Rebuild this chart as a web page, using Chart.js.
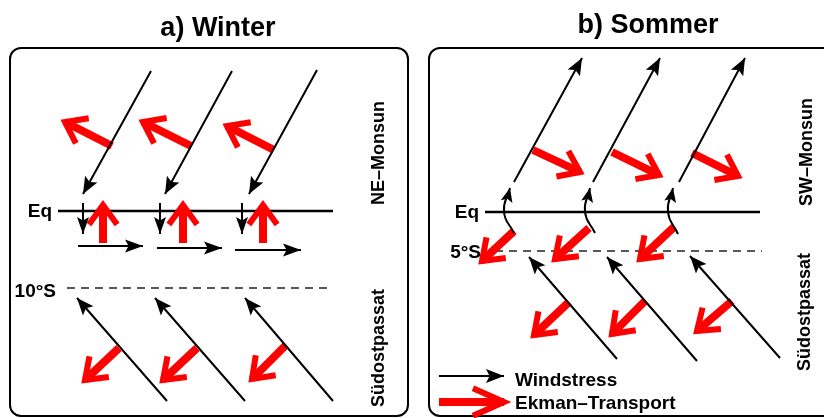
<!DOCTYPE html>
<html>
<head>
<meta charset="utf-8">
<script src="https://cdn.jsdelivr.net/npm/chart.js@4/dist/chart.umd.min.js"></script>
<style>
  html, body { margin: 0; padding: 0; background: #fff; }
  canvas { display: block; }
</style>
</head>
<body>
<canvas id="diagram" width="824" height="418"></canvas>
<script>
// Pfeile als [x0, y0, x1, y1], Spitze bei (x1, y1) – Einheiten der Achsen
const winterWind = [[151, 71, 83, 194], [232, 71, 165, 194], [317, 70, 249, 194]];
const winterEqDown = [[83, 203, 83, 234], [160, 203, 160, 234], [242, 203, 242, 234]];
const winterEqEast = [[78, 246, 143, 246], [157, 248, 222, 248], [235, 250, 301, 250]];
const winterPassat = [[167, 401, 77, 298], [245, 401, 155, 298], [333, 401, 245, 298]];
const winterEkmanN = [[112, 146, 65, 122], [191, 146, 143, 122], [274, 150, 227, 126]];
const winterEkmanEq = [[103, 243, 103, 205], [183, 243, 183, 205], [263, 243, 263, 205]];
const winterEkmanS = [[119, 348, 85, 380], [197, 348, 163, 380], [286, 345, 252, 379]];

const summerWind = [[514, 182, 582, 58], [593, 182, 660, 58], [679, 182, 745, 58]];
// gekrümmte Pfeile am Äquator: Start, Mitte, Spitze
const summerEqCurve = [
  [[514, 233], [504, 212], [510, 188]],
  [[595, 233], [585, 212], [590, 188]],
  [[678, 234], [668, 212], [673, 188]]
];
const summerPassat = [[617, 359, 529, 257], [697, 361, 607, 257], [780, 358, 690, 256]];
const summerEkmanN = [[533, 150, 580, 172], [612, 152, 659, 175], [692, 153, 738, 176]];
const summerEkmanEq = [[514, 231, 482, 261], [589, 228, 555, 259], [674, 227, 640, 259]];
const summerEkmanS = [[569, 302, 534, 335], [645, 301, 612, 334], [732, 301, 697, 331]];

// Äquator und Breitengrad
const eqLines = [[58, 211, 333, 211], [485, 212, 760, 212]];
const latLines = [[67, 288, 333, 288], [495, 251, 762, 251]];

// Legende
const legendWind = [[439, 376, 504, 376]];
const legendEkman = [[439, 402, 504, 402]];
const legendLabels = ["Windstress", "Ekman\u2013Transport"];

const panelTitles = ["a) Winter", "b) Sommer"];
const latLabels = ["10°S", "5°S"];
const sideLabels = ["NE\u2013Monsun", "S\u00fcdostpassat", "SW\u2013Monsun", "S\u00fcdostpassat"];

// Hilfsfunktion: Liste von Segmenten -> Punkte mit Lücken
function segs(list) {
  const pts = [];
  list.forEach((s) => {
    pts.push({ x: s[0], y: s[1] }, { x: s[2], y: s[3] }, { x: null, y: null });
  });
  return pts;
}
function curves(list) {
  const pts = [];
  list.forEach((c) => {
    c.forEach((p) => pts.push({ x: p[0], y: p[1] }));
    pts.push({ x: null, y: null });
  });
  return pts;
}

const RED = "#ff0000";
const BLACK = "#000000";

function blackArrows(data, head) {
  return { data, borderColor: BLACK, borderWidth: 2, order: 0, arrow: Object.assign({ type: "fill", len: 17, half: 7 }, head) };
}
function redArrows(data, head) {
  return { data, borderColor: RED, borderWidth: 8, order: 1, arrow: Object.assign({ type: "open", len: 24, angle: 36, width: 6 }, head) };
}

// Pfeilspitzen am Ende jedes Segments
const arrowHeads = {
  id: "arrowHeads",
  afterDatasetDraw(chart, args) {
    const ds = chart.data.datasets[args.index];
    if (!ds.arrow) return;
    const pts = args.meta.data;
    const ctx = chart.ctx;
    ctx.save();
    for (let i = 1; i < pts.length; i++) {
      const p = pts[i];
      const prev = pts[i - 1];
      const next = pts[i + 1];
      if (p.skip || prev.skip) continue;
      if (next && !next.skip) continue;
      const ang = Math.atan2(p.y - prev.y, p.x - prev.x);
      const a = ds.arrow;
      if (a.type === "fill") {
        const bx = p.x - a.len * Math.cos(ang);
        const by = p.y - a.len * Math.sin(ang);
        const nx = -Math.sin(ang) * a.half;
        const ny = Math.cos(ang) * a.half;
        const ix = p.x - a.len * 0.8 * Math.cos(ang);
        const iy = p.y - a.len * 0.8 * Math.sin(ang);
        ctx.fillStyle = ds.borderColor;
        ctx.beginPath();
        ctx.moveTo(p.x, p.y);
        ctx.lineTo(bx + nx, by + ny);
        ctx.lineTo(ix, iy);
        ctx.lineTo(bx - nx, by - ny);
        ctx.closePath();
        ctx.fill();
      } else {
        const da = (a.angle * Math.PI) / 180;
        ctx.strokeStyle = ds.borderColor;
        ctx.lineWidth = a.width;
        ctx.lineJoin = "miter";
        ctx.lineCap = "butt";
        ctx.beginPath();
        ctx.moveTo(p.x - a.len * Math.cos(ang - da), p.y - a.len * Math.sin(ang - da));
        ctx.lineTo(p.x, p.y);
        ctx.lineTo(p.x - a.len * Math.cos(ang + da), p.y - a.len * Math.sin(ang + da));
        ctx.stroke();
      }
    }
    ctx.restore();
  }
};

// Rahmen und Beschriftungen
const FONT = '"Liberation Sans", Arial, Helvetica, sans-serif';
const panelsAndText = {
  id: "panelsAndText",
  beforeDatasetsDraw(chart) {
    const { ctx, scales } = chart;
    const X = (v) => scales.x.getPixelForValue(v);
    const Y = (v) => scales.y.getPixelForValue(v);
    ctx.save();
    ctx.strokeStyle = BLACK;
    ctx.lineWidth = 2;
    [[10, 48, 408, 416], [429, 48, 840, 416]].forEach((b) => {
      ctx.beginPath();
      ctx.roundRect(X(b[0]), Y(b[1]), X(b[2]) - X(b[0]), Y(b[3]) - Y(b[1]), 11);
      ctx.stroke();
    });
    ctx.restore();
  },
  afterDatasetsDraw(chart) {
    const { ctx, scales } = chart;
    const X = (v) => scales.x.getPixelForValue(v);
    const Y = (v) => scales.y.getPixelForValue(v);
    ctx.save();
    ctx.fillStyle = BLACK;
    ctx.textBaseline = "alphabetic";

    ctx.font = "bold 27px " + FONT;
    ctx.textAlign = "center";
    ctx.fillText(panelTitles[0], X(218), Y(36));
    ctx.fillText(panelTitles[1], X(648), Y(33));

    ctx.font = "bold 19px " + FONT;
    ctx.textAlign = "right";
    ctx.fillText("Eq", X(52), Y(217));
    ctx.fillText("Eq", X(479), Y(218));
    ctx.fillText(latLabels[0], X(56), Y(297));
    ctx.fillText(latLabels[1], X(481), Y(258));

    ctx.textAlign = "left";
    ctx.fillText(legendLabels[0], X(515), Y(386));
    ctx.fillText(legendLabels[1], X(515), Y(409));

    ctx.font = "bold 18px " + FONT;
    ctx.textAlign = "center";
    ctx.textBaseline = "middle";
    [[sideLabels[0], 379, 153], [sideLabels[1], 379, 348], [sideLabels[2], 807, 152], [sideLabels[3], 805, 312]].forEach((t) => {
      ctx.save();
      ctx.translate(X(t[1]), Y(t[2]));
      ctx.rotate(-Math.PI / 2);
      ctx.fillText(t[0], 0, 0);
      ctx.restore();
    });
    ctx.restore();
  }
};

new Chart(document.getElementById("diagram"), {
  type: "scatter",
  data: {
    datasets: [
      blackArrows(segs(winterWind)),
      blackArrows(segs(winterEqDown), { len: 17, half: 6 }),
      blackArrows(segs(winterEqEast), { len: 18, half: 6.5 }),
      blackArrows(segs(winterPassat)),
      blackArrows(segs(summerWind)),
      Object.assign(blackArrows(curves(summerEqCurve), { len: 14, half: 6 }), { tension: 0.5 }),
      blackArrows(segs(summerPassat)),
      blackArrows(segs(legendWind), { len: 18, half: 7 }),
      redArrows(segs(winterEkmanN)),
      redArrows(segs(winterEkmanEq)),
      redArrows(segs(winterEkmanS)),
      redArrows(segs(summerEkmanN)),
      redArrows(segs(summerEkmanEq)),
      redArrows(segs(summerEkmanS)),
      redArrows(segs(legendEkman), { len: 34, angle: 24, width: 6 }),
      { data: segs(eqLines), borderColor: BLACK, borderWidth: 2.5, order: 2 },
      { data: segs(latLines), borderColor: "#222", borderWidth: 1.3, borderDash: [8, 6], order: 2 }
    ].map((d) => Object.assign({ showLine: true, spanGaps: false, pointRadius: 0, fill: false, borderCapStyle: "butt" }, d))
  },
  options: {
    responsive: false,
    animation: false,
    events: [],
    layout: { padding: 0 },
    plugins: { legend: { display: false }, tooltip: { enabled: false }, title: { display: false } },
    scales: {
      x: { type: "linear", min: 0, max: 824, display: false },
      y: { type: "linear", min: 0, max: 418, reverse: true, display: false }
    }
  },
  plugins: [panelsAndText, arrowHeads]
});
</script>
</body>
</html>
